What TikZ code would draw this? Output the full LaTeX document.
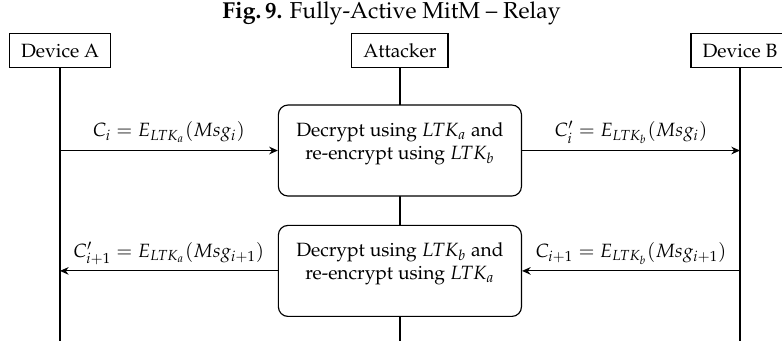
\documentclass[tikz,border=0pt]{standalone}
\usepackage[T1]{fontenc}
\usepackage{mathpazo}
\usetikzlibrary{arrows.meta}
\tikzset{
  hdr/.style={draw, line width=0.6pt, inner xsep=6pt, minimum height=17.7pt, font=\fontsize{10}{12}\selectfont},
  life/.style={line width=0.8pt},
  proc/.style={draw, line width=0.6pt, fill=white, rounded corners=5pt, minimum width=126.6pt, minimum height=47.4pt},
  proctext/.style={align=center, inner sep=0pt, font=\fontsize{10}{12}\selectfont},
  msg/.style={line width=0.6pt, -{Stealth[length=4.5pt,width=4pt]}},
  lbl/.style={midway, anchor=base, yshift=7.1pt, inner sep=0pt, font=\fontsize{10}{12}\selectfont}
}
\begin{document}
\begin{tikzpicture}[x=1pt,y=-1pt]
\useasboundingbox (0,0) rectangle (407.3,177.6);
\node[anchor=base, font=\fontsize{12}{14}\selectfont] (title) at (203.9,9.4) {\textbf{Fig.\,9.} Fully-Active MitM -- Relay};
\node[hdr] (A) at (31.25,26.5) {Device A};
\node[hdr] (M) at (208.3,26.5) {Attacker};
\node[hdr] (B) at (385.4,26.5) {Device B};
\coordinate (Aend) at (31.25,177.6);
\coordinate (Mend) at (208.3,177.6);
\coordinate (Bend) at (385.4,177.6);
\draw[life] (A.south) -- (Aend);
\draw[life] (M.south) -- (Mend);
\draw[life] (B.south) -- (Bend);
\node[proc] (P1) at (208.3,78.4) {};
\node[proctext] (P1t) at (208.3,75.1) {Decrypt using $LTK_a$ and\\re-encrypt using $LTK_b$};
\node[proc] (P2) at (208.3,141.1) {};
\node[proctext] (P2t) at (208.3,137.6) {Decrypt using $LTK_b$ and\\re-encrypt using $LTK_a$};
\draw[msg] (A |- P1) -- node[lbl] (L1) {$C_i = E_{LTK_a}(Msg_i)$} (P1.west);
\draw[msg] (P1.east) -- node[lbl] (L2) {$C'_i = E_{LTK_b}(Msg_i)$} (B |- P1);
\draw[msg] (P2.west) -- node[lbl] (L3) {$C'_{i+1} = E_{LTK_a}(Msg_{i+1})$} (A |- P2);
\draw[msg] (B |- P2) -- node[lbl] (L4) {$C_{i+1} = E_{LTK_b}(Msg_{i+1})$} (P2.east);
\end{tikzpicture}
\end{document}
